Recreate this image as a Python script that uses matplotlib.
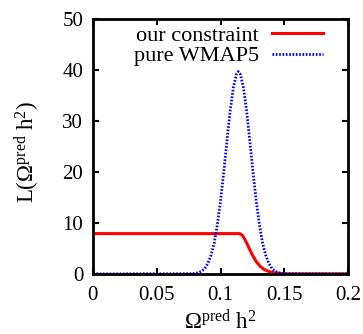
import numpy as np
import matplotlib
matplotlib.use("Agg")
import matplotlib.pyplot as plt

plt.rcParams['font.family'] = ['Liberation Serif', 'DejaVu Serif']
plt.rcParams['mathtext.fontset'] = 'custom'
plt.rcParams['mathtext.rm'] = 'Liberation Serif'
plt.rcParams['mathtext.it'] = 'Liberation Serif:italic'

# our constraint (red)
ours_x = [0.0, 0.115, 0.117, 0.119, 0.121, 0.123, 0.125, 0.128, 0.131, 0.134,
          0.137, 0.140, 0.144, 0.148, 0.152, 0.2]
ours_y = [7.9, 7.9, 7.6, 6.8, 5.8, 4.7, 3.7, 2.4, 1.5, 0.9,
          0.55, 0.3, 0.15, 0.05, 0.0, 0.0]

# pure WMAP5 (blue dotted)
wmap_x = [0.0, 0.0775, 0.08, 0.0825, 0.085, 0.0875, 0.09, 0.0925, 0.095, 0.0975,
          0.1, 0.1025, 0.105, 0.1075, 0.11, 0.1125, 0.114, 0.1155, 0.118, 0.1205,
          0.123, 0.1255, 0.128, 0.1305, 0.133, 0.1355, 0.138, 0.1405, 0.143,
          0.1455, 0.148, 0.1505, 0.2]
wmap_y = [0.0, 0.04, 0.1, 0.23, 0.5, 1.0, 2.0, 3.6, 6.0, 9.6,
          14.3, 19.9, 26.0, 31.9, 36.5, 39.2, 39.7, 39.2, 36.5, 31.9,
          26.0, 19.9, 14.3, 9.6, 6.0, 3.6, 2.0, 1.0, 0.5,
          0.23, 0.1, 0.04, 0.0]

fig = plt.figure(figsize=(3.63, 3.34), dpi=100)
ax = fig.add_axes([0.256, 0.180, 0.703, 0.763])

ax.plot(ours_x, ours_y, color='red', lw=2.2, label='our constraint')
ax.plot(wmap_x, wmap_y, color='blue', lw=2.0, ls=(0, (0.6, 0.6)), label='pure WMAP5')

ax.set_xlim(0, 0.2)
ax.set_ylim(0, 50)
ax.set_xticks([0, 0.05, 0.1, 0.15, 0.2])
ax.set_xticklabels(['0', '0.05', '0.1', '0.15', '0.2'])
ax.set_yticks([0, 10, 20, 30, 40, 50])
ax.tick_params(direction='in', top=True, right=True, length=4, width=1.5,
               labelsize=15)
ax.tick_params(axis='x', pad=9)
ax.tick_params(axis='y', pad=7)
for s in ax.spines.values():
    s.set_linewidth(2)

ax.set_xlabel(r'$\mathrm{\Omega^{pred}\ h^2}$', fontsize=16.5)
ax.set_ylabel(r'$\mathrm{L(\Omega^{pred}\ h^2)}$', fontsize=16.5)
ax.xaxis.set_label_coords(0.5, -0.14)
ax.yaxis.set_label_coords(-0.20, 0.48)

ax.legend(loc='upper right', frameon=False, markerfirst=False, fontsize=16,
          handlelength=2.3, handletextpad=0.6, labelspacing=0.0,
          borderaxespad=0, bbox_to_anchor=(0.937, 1.01))

fig.savefig('out.png', dpi=100)
